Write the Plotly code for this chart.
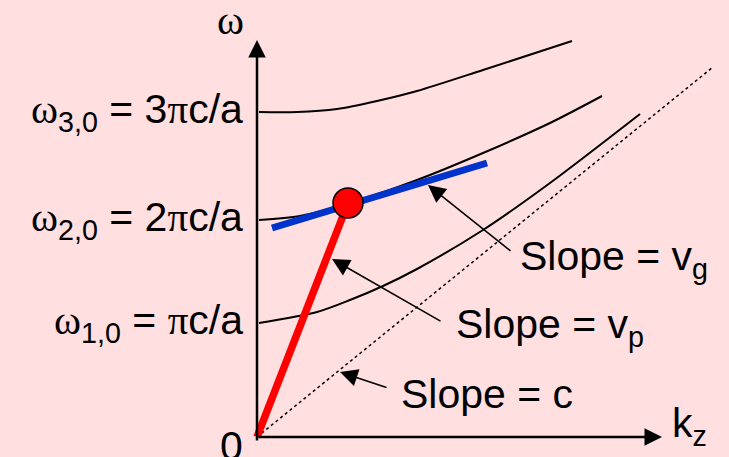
import plotly.graph_objects as go

# values (k along x, omega along y, same arbitrary units)
k_band1 = [2, 60, 93, 126, 160, 226, 293, 383]
w_band1 = [114, 125, 137, 151, 168, 207, 254, 323]
k_band2 = [2, 43, 93, 160, 226, 293, 345]
w_band2 = [217, 221, 234, 257, 284, 314, 341]
k_band3 = [2, 40, 80, 120, 160, 226, 315]
w_band3 = [325, 325, 328, 336, 346, 367, 396]
k_light = [0, 456]
w_light = [0, 370]
k_point = [91]
w_point = [234]
k_tangent = [15, 230]
w_tangent = [209, 274]
w_levels = [114, 217, 325]
level_labels = ['1,0', '2,0', '3,0']
level_values = ['', '2', '3']

SERIF = 'Liberation Serif, DejaVu Serif, serif'
SANS = 'Liberation Sans, Arial, sans-serif'
BG = '#FFDFE0'


def sym(ch):
    return f'<span style="font-family:{SERIF}">{ch}</span>'


fig = go.Figure()

# dotted light line
fig.add_trace(go.Scatter(x=k_light, y=w_light, mode='lines',
                         line=dict(color='black', width=1.5, dash='dot')))

# dispersion curves
for kk, ww in [(k_band1, w_band1), (k_band2, w_band2), (k_band3, w_band3)]:
    fig.add_trace(go.Scatter(x=kk, y=ww, mode='lines',
                             line=dict(color='black', width=2, shape='spline', smoothing=0.8)))

# phase velocity line
fig.add_trace(go.Scatter(x=[0] + k_point, y=[0] + w_point, mode='lines',
                         line=dict(color='#FF0000', width=7.5)))
# group velocity tangent
fig.add_trace(go.Scatter(x=k_tangent, y=w_tangent, mode='lines',
                         line=dict(color='#0033CC', width=7)))
# operating point
fig.add_trace(go.Scatter(x=k_point, y=w_point, mode='markers',
                         marker=dict(color='#FF0000', size=30,
                                     line=dict(color='black', width=1.5))))

ann = []
# axes with arrows
ann.append(dict(x=0, y=397, ax=0, ay=-5, xref='x', yref='y', axref='x', ayref='y',
                showarrow=True, arrowhead=2, arrowsize=1.4, arrowwidth=2.5,
                arrowcolor='black', text=''))
ann.append(dict(x=405, y=0, ax=0, ay=0, xref='x', yref='y', axref='x', ayref='y',
                showarrow=True, arrowhead=2, arrowsize=1.4, arrowwidth=2.5,
                arrowcolor='black', text=''))

# pointer arrows
for tip, tail in [((171, 252), (255, 185)), ((75, 178), (185, 115)), ((83, 65), (131, 49))]:
    ann.append(dict(x=tip[0], y=tip[1], ax=tail[0], ay=tail[1],
                    xref='x', yref='y', axref='x', ayref='y',
                    showarrow=True, arrowhead=2, arrowsize=2.2, arrowwidth=1.6,
                    arrowcolor='black', text=''))

font = dict(family=SANS, size=41, color='black')

# level labels
for w, sub, val in zip(w_levels, level_labels, level_values):
    ann.append(dict(x=-12, y=w, xref='x', yref='y', showarrow=False,
                    xanchor='right', yanchor='middle', font=font,
                    text=f'{sym("ω")}<sub>{sub}</sub> = {val}{sym("π")}c/a'))

# axis labels
ann.append(dict(x=-27, y=417, xref='x', yref='y', showarrow=False,
                xanchor='center', yanchor='middle', font=font, text=sym('ω')))
ann.append(dict(x=-26, y=-9, xref='x', yref='y', showarrow=False,
                xanchor='center', yanchor='middle', font=font, text='0'))
ann.append(dict(x=413, y=11, xref='x', yref='y', showarrow=False,
                xanchor='left', yanchor='middle', font=font, text='k<sub>z</sub>'))

# slope labels
ann.append(dict(x=261, y=178, xref='x', yref='y', showarrow=False,
                xanchor='left', yanchor='middle', font=font, text='Slope = v<sub>g</sub>'))
ann.append(dict(x=197, y=110, xref='x', yref='y', showarrow=False,
                xanchor='left', yanchor='middle', font=font, text='Slope = v<sub>p</sub>'))
ann.append(dict(x=142, y=43, xref='x', yref='y', showarrow=False,
                xanchor='left', yanchor='middle', font=font, text='Slope = c'))

fig.update_layout(
    width=729, height=457,
    margin=dict(l=0, r=0, t=0, b=0),
    paper_bgcolor=BG, plot_bgcolor=BG,
    showlegend=False,
    annotations=ann,
    xaxis=dict(range=[-257, 472], visible=False, fixedrange=True),
    yaxis=dict(range=[-20, 437], visible=False, fixedrange=True),
)

fig.write_html("out.html", config=dict(displayModeBar=False),
               post_script="document.body.style.margin='0';"
                           "document.body.style.background='" + BG + "';")
